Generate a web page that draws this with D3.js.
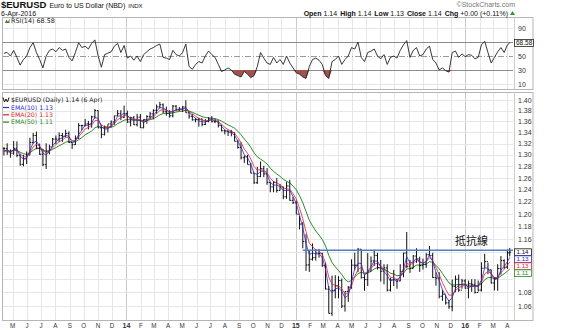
<!DOCTYPE html>
<html>
<head>
<meta charset="utf-8">
<script src="https://cdn.jsdelivr.net/npm/d3@7"></script>
<style>
  body { margin: 0; background: #fff; }
  svg { display: block; }
</style>
</head>
<body>
<svg id="chart" width="565" height="330"></svg>
<script>
// ---- EUR/USD weekly bars (week ending Friday), Apr 2013 – 6 Apr 2016 ----
const firstWeekEnd = "2013-04-12";
const lastSession = "2016-04-06";

const weekHigh = [
  1.3140, 1.3205, 1.3095, 1.3245, 1.3240, 1.3010, 1.3000, 1.3060, 1.3305, 1.3390,
  1.3415, 1.3200, 1.3110, 1.3205, 1.3180, 1.3300, 1.3345, 1.3400, 1.3390, 1.3450,
  1.3420, 1.3215, 1.3345, 1.3570, 1.3540, 1.3645, 1.3610, 1.3705, 1.3830, 1.3805,
  1.3530, 1.3525, 1.3545, 1.3620, 1.3705, 1.3810, 1.3810, 1.3895, 1.3800, 1.3685,
  1.3700, 1.3740, 1.3740, 1.3640, 1.3715, 1.3775, 1.3825, 1.3915, 1.3965, 1.3935,
  1.3875, 1.3810, 1.3905, 1.3905, 1.3870, 1.3885, 1.3995, 1.3770, 1.3735, 1.3665,
  1.3670, 1.3655, 1.3645, 1.3680, 1.3700, 1.3650, 1.3620, 1.3540, 1.3445, 1.3440,
  1.3445, 1.3400, 1.3265, 1.3225, 1.2990, 1.3000, 1.2860, 1.2690, 1.2790, 1.2885,
  1.2810, 1.2770, 1.2535, 1.2550, 1.2600, 1.2500, 1.2455, 1.2535, 1.2570, 1.2285,
  1.2220, 1.1975, 1.1870, 1.1680, 1.1425, 1.1535, 1.1445, 1.1450, 1.1390, 1.1240,
  1.0890, 1.1045, 1.1050, 1.1035, 1.1000, 1.0810, 1.0890, 1.1290, 1.1390, 1.1465,
  1.1445, 1.1060, 1.1385, 1.1335, 1.1435, 1.1390, 1.1280, 1.1215, 1.1215, 1.1010,
  1.1130, 1.1000, 1.1215, 1.1390, 1.1715, 1.1280, 1.1355, 1.1460, 1.1330, 1.1300,
  1.1385, 1.1495, 1.1390, 1.1095, 1.1095, 1.0835, 1.0760, 1.0690, 1.0985, 1.1045,
  1.1060, 1.0995, 1.0990, 1.0970, 1.0990, 1.0990, 1.0970, 1.1245, 1.1375, 1.1240,
  1.1135, 1.1025, 1.1215, 1.1340, 1.1290, 1.1440, 1.1465
];
const weekLow = [
  1.2990, 1.3000, 1.2950, 1.3000, 1.2960, 1.2810, 1.2800, 1.2840, 1.3000, 1.3200,
  1.3100, 1.3000, 1.2805, 1.2755, 1.3010, 1.3150, 1.3190, 1.3225, 1.3230, 1.3315,
  1.3210, 1.3105, 1.3175, 1.3285, 1.3440, 1.3510, 1.3455, 1.3485, 1.3650, 1.3475,
  1.3295, 1.3345, 1.3400, 1.3490, 1.3540, 1.3700, 1.3625, 1.3665, 1.3575, 1.3510,
  1.3535, 1.3510, 1.3480, 1.3475, 1.3560, 1.3640, 1.3640, 1.3745, 1.3840, 1.3750,
  1.3705, 1.3670, 1.3675, 1.3790, 1.3790, 1.3775, 1.3760, 1.3650, 1.3615, 1.3585,
  1.3505, 1.3510, 1.3535, 1.3585, 1.3585, 1.3570, 1.3490, 1.3420, 1.3365, 1.3335,
  1.3330, 1.3240, 1.3110, 1.2920, 1.2860, 1.2835, 1.2680, 1.2500, 1.2500, 1.2615,
  1.2615, 1.2485, 1.2360, 1.2360, 1.2355, 1.2390, 1.2245, 1.2250, 1.2220, 1.2165,
  1.2000, 1.1755, 1.1460, 1.1115, 1.1100, 1.1270, 1.1270, 1.1315, 1.1175, 1.0840,
  1.0495, 1.0460, 1.0710, 1.0710, 1.0570, 1.0520, 1.0660, 1.0850, 1.1130, 1.1095,
  1.1000, 1.0820, 1.0890, 1.1110, 1.1190, 1.1135, 1.0955, 1.0915, 1.0810, 1.0810,
  1.0890, 1.0850, 1.0960, 1.1020, 1.1155, 1.1085, 1.1155, 1.1235, 1.1100, 1.1135,
  1.1160, 1.1335, 1.1010, 1.0895, 1.0710, 1.0675, 1.0620, 1.0560, 1.0525, 1.0800,
  1.0805, 1.0850, 1.0850, 1.0710, 1.0805, 1.0780, 1.0810, 1.0810, 1.1160, 1.1065,
  1.0925, 1.0825, 1.0820, 1.1060, 1.1145, 1.1145, 1.1335
];
const weekClose = [
  1.3110, 1.3050, 1.3030, 1.3115, 1.2990, 1.2835, 1.2930, 1.2995, 1.3220, 1.3345,
  1.3120, 1.3010, 1.2830, 1.3065, 1.3140, 1.3280, 1.3280, 1.3345, 1.3330, 1.3380,
  1.3220, 1.3180, 1.3295, 1.3525, 1.3525, 1.3555, 1.3550, 1.3685, 1.3802, 1.3485,
  1.3365, 1.3500, 1.3555, 1.3590, 1.3705, 1.3745, 1.3675, 1.3745, 1.3590, 1.3670,
  1.3540, 1.3680, 1.3485, 1.3635, 1.3690, 1.3740, 1.3805, 1.3870, 1.3910, 1.3780,
  1.3750, 1.3705, 1.3885, 1.3815, 1.3830, 1.3870, 1.3760, 1.3695, 1.3630, 1.3635,
  1.3645, 1.3545, 1.3600, 1.3645, 1.3595, 1.3605, 1.3525, 1.3430, 1.3425, 1.3410,
  1.3400, 1.3240, 1.3130, 1.2950, 1.2965, 1.2830, 1.2685, 1.2520, 1.2625, 1.2760,
  1.2670, 1.2525, 1.2450, 1.2525, 1.2390, 1.2450, 1.2285, 1.2465, 1.2225, 1.2185,
  1.2000, 1.1840, 1.1565, 1.1205, 1.1290, 1.1315, 1.1385, 1.1380, 1.1195, 1.0845,
  1.0495, 1.0825, 1.0890, 1.0970, 1.0600, 1.0810, 1.0870, 1.1200, 1.1200, 1.1445,
  1.1015, 1.0985, 1.1110, 1.1265, 1.1350, 1.1165, 1.1110, 1.1160, 1.0830, 1.0980,
  1.0985, 1.0965, 1.1105, 1.1385, 1.1185, 1.1150, 1.1340, 1.1295, 1.1195, 1.1215,
  1.1360, 1.1350, 1.1015, 1.1005, 1.0740, 1.0770, 1.0645, 1.0590, 1.0885, 1.0990,
  1.0830, 1.0965, 1.0860, 1.0925, 1.0915, 1.0795, 1.0830, 1.1155, 1.1255, 1.1130,
  1.0935, 1.1000, 1.1150, 1.1270, 1.1170, 1.1390, 1.1400
];
// RSI(14) sampled once a week
const rsiValues = [
  54, 55, 50, 58, 48, 37, 45, 50, 62, 69,
  55, 45, 33, 50, 58, 60, 56, 62, 58, 60,
  48, 43, 55, 69, 62, 64, 60, 68, 73, 50,
  34, 52, 54, 56, 64, 68, 55, 65, 47, 50,
  44, 50, 42, 52, 56, 60, 62, 65, 67, 48,
  47, 45, 58, 52, 50, 55, 67, 35, 31, 38,
  42, 40, 50, 57, 52, 48, 38, 28, 30, 33,
  30, 24, 22, 20, 28, 24, 19, 22, 35, 55,
  47, 40, 38, 48, 40, 45, 38, 50, 40, 33,
  26, 24, 20, 18, 35, 45, 47, 44, 38, 22,
  18, 42, 45, 50, 38, 45, 50, 62, 60, 70,
  48, 42, 55, 57, 60, 50, 46, 52, 38, 48,
  50, 47, 58, 66, 72, 48, 58, 62, 50, 52,
  60, 64, 45, 40, 30, 33, 29, 27, 55, 57,
  48, 53, 49, 52, 51, 46, 48, 66, 71, 55,
  40, 48, 56, 62, 55, 66, 68.58
];

const priceTicks = [1.06, 1.08, 1.10, 1.12, 1.14, 1.16, 1.18, 1.20, 1.22, 1.24,
                    1.26, 1.28, 1.30, 1.32, 1.34, 1.36, 1.38, 1.40];
const rsiTicks = [10, 30, 50, 70, 90];
const emaPeriods = [10, 20, 50];
const emaColors = ["#2b2bd0", "#e0202c", "#2a8a2a"];
const resistanceLevel = 1.143;
const resistanceFrom = "2015-01-16";
const resistanceLabel = "抵抗線";
const dayOpen = 1.14, dayHigh = 1.14, dayLow = 1.13, dayChg = 0.00, dayChgPct = 0.11;

// ---- layout ----
const svg = d3.select("#chart");
const plotL = 3, plotR = 513, frameR = 533;
const rsiTop = 17, rsiBot = 89;
const mainTop = 92, mainBot = 320;
const parse = d3.timeParse("%Y-%m-%d");

const dates = weekClose.map((_, i) => d3.timeDay.offset(parse(firstWeekEnd), 7 * i));
dates[dates.length - 1] = parse(lastSession);

const x = d3.scaleTime()
  .domain([parse("2013-04-10"), parse("2016-04-13")])
  .range([plotL, plotR]);
const y = d3.scaleLog().domain([1.40, 1.06]).range([100, 306]);
const yr = d3.scaleLinear().domain([0, 100]).range([91, 21]);

// EMA overlays: each weekly step feeds the week's mid price (H+L)/2,
// with the smoothing factor scaled to the trading days in that step
const tradingDays = (a, b) => d3.timeDay.range(a, b).filter(d => d.getDay() % 6 !== 0).length;
function ema(period) {
  const a = 2 / (period + 1);
  const out = [];
  weekClose.forEach((c, i) => {
    const p = (weekHigh[i] + weekLow[i]) / 2;
    if (i === 0) { out.push(p); return; }
    const k = 1 - Math.pow(1 - a, tradingDays(dates[i - 1], dates[i]));
    out.push(out[i - 1] + k * (p - out[i - 1]));
  });
  return out;
}
const emas = emaPeriods.map(ema);

const defs = svg.append("defs");
defs.append("clipPath").attr("id", "clipMain")
  .append("rect").attr("x", plotL).attr("y", mainTop).attr("width", plotR - plotL).attr("height", mainBot - mainTop);
defs.append("clipPath").attr("id", "clipRsi")
  .append("rect").attr("x", plotL).attr("y", rsiTop).attr("width", plotR - plotL).attr("height", rsiBot - rsiTop);

const months = d3.timeMonth.range(parse("2013-05-01"), parse("2016-04-02"));

// ---- grid ----
[[rsiTop, rsiBot], [mainTop, mainBot]].forEach(([t, b]) => {
  svg.append("g").selectAll("line").data(months).join("line")
    .attr("x1", d => Math.round(x(d)) + 0.5).attr("x2", d => Math.round(x(d)) + 0.5)
    .attr("y1", t).attr("y2", b)
    .attr("stroke", d => d.getMonth() === 0 ? "#c9c9c9" : "#e6e6e6").attr("stroke-width", 1);
});

svg.append("g").selectAll("line").data(priceTicks).join("line")
  .attr("x1", plotL).attr("x2", plotR)
  .attr("y1", d => Math.round(y(d)) + 0.5).attr("y2", d => Math.round(y(d)) + 0.5)
  .attr("stroke", "#e6e6e6");

svg.append("g").selectAll("line").data(rsiTicks).join("line")
  .attr("x1", plotL).attr("x2", plotR)
  .attr("y1", d => Math.round(yr(d)) + 0.5).attr("y2", d => Math.round(yr(d)) + 0.5)
  .attr("stroke", d => (d === 30 || d === 70) ? "#8c8c8c" : (d === 50 ? "#9a9a9a" : "#e6e6e6"))
  .attr("stroke-dasharray", d => d === 50 ? "6,2,1,2" : null);

// frames
[[rsiTop, rsiBot], [mainTop, mainBot]].forEach(([t, b]) => {
  svg.append("rect").attr("x", plotL - 0.5).attr("y", t + 0.5)
    .attr("width", frameR - plotL + 0.5).attr("height", b - t)
    .attr("fill", "none").attr("stroke", "#b5b5b5");
  svg.append("line").attr("x1", plotR + 1.5).attr("x2", plotR + 1.5)
    .attr("y1", t).attr("y2", b).attr("stroke", "#cfcfcf");
});

const axisFont = "Liberation Sans, Arial, sans-serif";

// ---- RSI panel ----
const rsiG = svg.append("g").attr("clip-path", "url(#clipRsi)");
const rsiPts = rsiValues.map((v, i) => [dates[i], v]);
rsiG.append("path").datum(rsiPts)
  .attr("fill", "#a0524e")
  .attr("d", d3.area().x(d => x(d[0])).y0(yr(30)).y1(d => yr(Math.min(d[1], 30))));
rsiG.append("path").datum(rsiPts)
  .attr("fill", "none").attr("stroke", "#222").attr("stroke-width", 0.9)
  .attr("d", d3.line().x(d => x(d[0])).y(d => yr(d[1])));

const rsiLast = rsiValues[rsiValues.length - 1];
const rsiBoxY = yr(rsiLast);
svg.append("g").selectAll("text")
  .data(rsiTicks.filter(t => Math.abs(yr(t) - rsiBoxY) > 6))
  .join("text")
  .attr("x", plotR + 5).attr("y", d => yr(d) + 2.5)
  .attr("font-family", axisFont).attr("font-size", 7).attr("fill", "#333")
  .text(d => d);

svg.append("rect").attr("x", plotR + 1.5).attr("y", rsiBoxY - 3.5)
  .attr("width", 19).attr("height", 7).attr("fill", "#fff").attr("stroke", "#222").attr("stroke-width", 0.8);
svg.append("text").attr("x", plotR + 3).attr("y", rsiBoxY + 2.4)
  .attr("font-family", axisFont).attr("font-size", 6.5).attr("fill", "#111")
  .text(rsiLast.toFixed(2));

// ---- price panel ----
const mainG = svg.append("g").attr("clip-path", "url(#clipMain)");
const emaLine = d3.line().x(d => x(d[0])).y(d => y(d[1]));

mainG.append("path")
  .datum(emas[2].map((v, i) => [dates[i], v]))
  .attr("fill", "none").attr("stroke", emaColors[2]).attr("stroke-width", 1)
  .attr("d", emaLine);

const bars = mainG.append("g").attr("stroke", "#111").attr("stroke-width", 1);
weekClose.forEach((c, i) => {
  const cx = x(dates[i]);
  const o = i === 0 ? c : weekClose[i - 1];
  bars.append("line").attr("x1", cx).attr("x2", cx)
    .attr("y1", y(weekHigh[i])).attr("y2", y(weekLow[i]));
  bars.append("line").attr("x1", cx - 1.3).attr("x2", cx)
    .attr("y1", y(o)).attr("y2", y(o));
  bars.append("line").attr("x1", cx).attr("x2", cx + 1.3)
    .attr("y1", y(c)).attr("y2", y(c));
});

[1, 0].forEach(k => {
  mainG.append("path")
    .datum(emas[k].map((v, i) => [dates[i], v]))
    .attr("fill", "none").attr("stroke", emaColors[k]).attr("stroke-width", 0.9).attr("opacity", 0.9)
    .attr("d", emaLine);
});

// resistance line
mainG.append("line")
  .attr("x1", x(parse(resistanceFrom))).attr("x2", plotR + 20)
  .attr("y1", y(resistanceLevel)).attr("y2", y(resistanceLevel))
  .attr("stroke", "#4f7fc0").attr("stroke-width", 1.6);
svg.append("text")
  .attr("x", 455).attr("y", y(resistanceLevel) - 5)
  .attr("font-family", "Noto Sans CJK TC, Noto Sans CJK JP, sans-serif")
  .attr("font-size", 11).attr("fill", "#111")
  .text(resistanceLabel);

// last-value boxes, stacked downward so they don't overlap
const lastClose = weekClose[weekClose.length - 1];
const boxes = [{ v: lastClose, c: "#111" }].concat(
  emas.map((s, k) => ({ v: s[s.length - 1], c: emaColors[k] })));
let prevY = -Infinity;
boxes.forEach(b => { b.y = Math.max(y(b.v), prevY + 7); prevY = b.y; });

// price axis labels, skipping any that sit under a value box
svg.append("g").selectAll("text")
  .data(priceTicks.filter(t => boxes.every(b => Math.abs(y(t) - b.y) > 5.5)))
  .join("text")
  .attr("x", plotR + 5).attr("y", d => y(d) + 2.5)
  .attr("font-family", axisFont).attr("font-size", 7).attr("fill", "#333")
  .text(d => d.toFixed(2));

boxes.forEach(b => {
  svg.append("rect").attr("x", plotR + 1.5).attr("y", b.y - 3.3)
    .attr("width", 17).attr("height", 6.6).attr("fill", "#fff")
    .attr("stroke", b.c).attr("stroke-width", 0.8);
  svg.append("text").attr("x", plotR + 3.5).attr("y", b.y + 2.2)
    .attr("font-family", axisFont).attr("font-size", 6.2).attr("fill", b.c)
    .text(b.v.toFixed(2));
});

// ---- date axis ----
const fmtYear = d3.timeFormat("%y");
const fmtMon = d3.timeFormat("%b");
svg.append("g").selectAll("text").data(months).join("text")
  .attr("x", d => x(d)).attr("y", 328)
  .attr("text-anchor", "middle")
  .attr("font-family", axisFont)
  .attr("font-size", d => d.getMonth() === 0 ? 7 : 6.3)
  .attr("font-weight", d => d.getMonth() === 0 ? "bold" : "normal")
  .attr("fill", "#333")
  .text(d => d.getMonth() === 0 ? fmtYear(d) : fmtMon(d)[0]);

// ---- legends ----
const legFont = "DejaVu Sans, Verdana, sans-serif";
svg.append("path").attr("d", "M5,23 L6.5,19.5 L8,22 L9.5,18.5 L9.5,23 Z").attr("fill", "#3a7a3a");
svg.append("text").attr("x", 11).attr("y", 23)
  .attr("font-family", legFont).attr("font-size", 6.4).attr("fill", "#222")
  .text(`RSI(14) ${rsiLast.toFixed(2)}`);

svg.append("path").attr("d", "M3,97.5 L4.5,102 L6,99 L7.5,102 L9,97.5")
  .attr("fill", "none").attr("stroke", "#111").attr("stroke-width", 1);
svg.append("text").attr("x", 11).attr("y", 102)
  .attr("font-family", legFont).attr("font-size", 6.2).attr("fill", "#222")
  .text(`$EURUSD (Daily) ${lastClose.toFixed(2)} (6 Apr)`);
emaPeriods.forEach((p, k) => {
  const ly = 109.5 + k * 7.3;
  svg.append("line").attr("x1", 3).attr("x2", 9).attr("y1", ly - 2).attr("y2", ly - 2)
    .attr("stroke", emaColors[k]).attr("stroke-width", 1.2);
  const last = emas[k][emas[k].length - 1];
  svg.append("text").attr("x", 11).attr("y", ly)
    .attr("font-family", legFont).attr("font-size", 6.2).attr("fill", emaColors[k])
    .text(`EMA(${p}) ${last.toFixed(2)}`);
});

// ---- header ----
const hdr = svg.append("text").attr("x", 1).attr("y", 8).attr("font-family", axisFont).attr("fill", "#111");
hdr.append("tspan").attr("font-size", 9.5).attr("font-weight", "bold").text("$EURUSD");
hdr.append("tspan").attr("font-size", 7).attr("dx", 3).text("Euro to US Dollar (NBD)");
hdr.append("tspan").attr("font-size", 6).attr("dx", 3).text("INDX");
svg.append("text").attr("x", 1).attr("y", 15.5).attr("font-family", axisFont)
  .attr("font-size", 7).attr("fill", "#111").text("6-Apr-2016");

svg.append("text").attr("x", frameR - 18).attr("y", 7).attr("text-anchor", "end")
  .attr("font-family", axisFont).attr("font-size", 7).attr("fill", "#777")
  .text("\u00a9StockCharts.com");

const ohlc = svg.append("text").attr("x", frameR - 25).attr("y", 15.5).attr("text-anchor", "end")
  .attr("font-family", axisFont).attr("font-size", 7).attr("fill", "#111");
[["Open", dayOpen.toFixed(2)], ["High", dayHigh.toFixed(2)], ["Low", dayLow.toFixed(2)],
 ["Close", lastClose.toFixed(2)],
 ["Chg", `+${dayChg.toFixed(2)} (+${dayChgPct.toFixed(2)}%)`]].forEach(([lab, val], i) => {
  ohlc.append("tspan").attr("font-weight", "bold").attr("dx", i ? 3 : 0).text(lab);
  ohlc.append("tspan").attr("dx", 2).text(val);
});
svg.append("path").attr("d", `M${frameR - 23},15 L${frameR - 20.5},11 L${frameR - 18},15 Z`).attr("fill", "#2a9a2a");
</script>
</body>
</html>
